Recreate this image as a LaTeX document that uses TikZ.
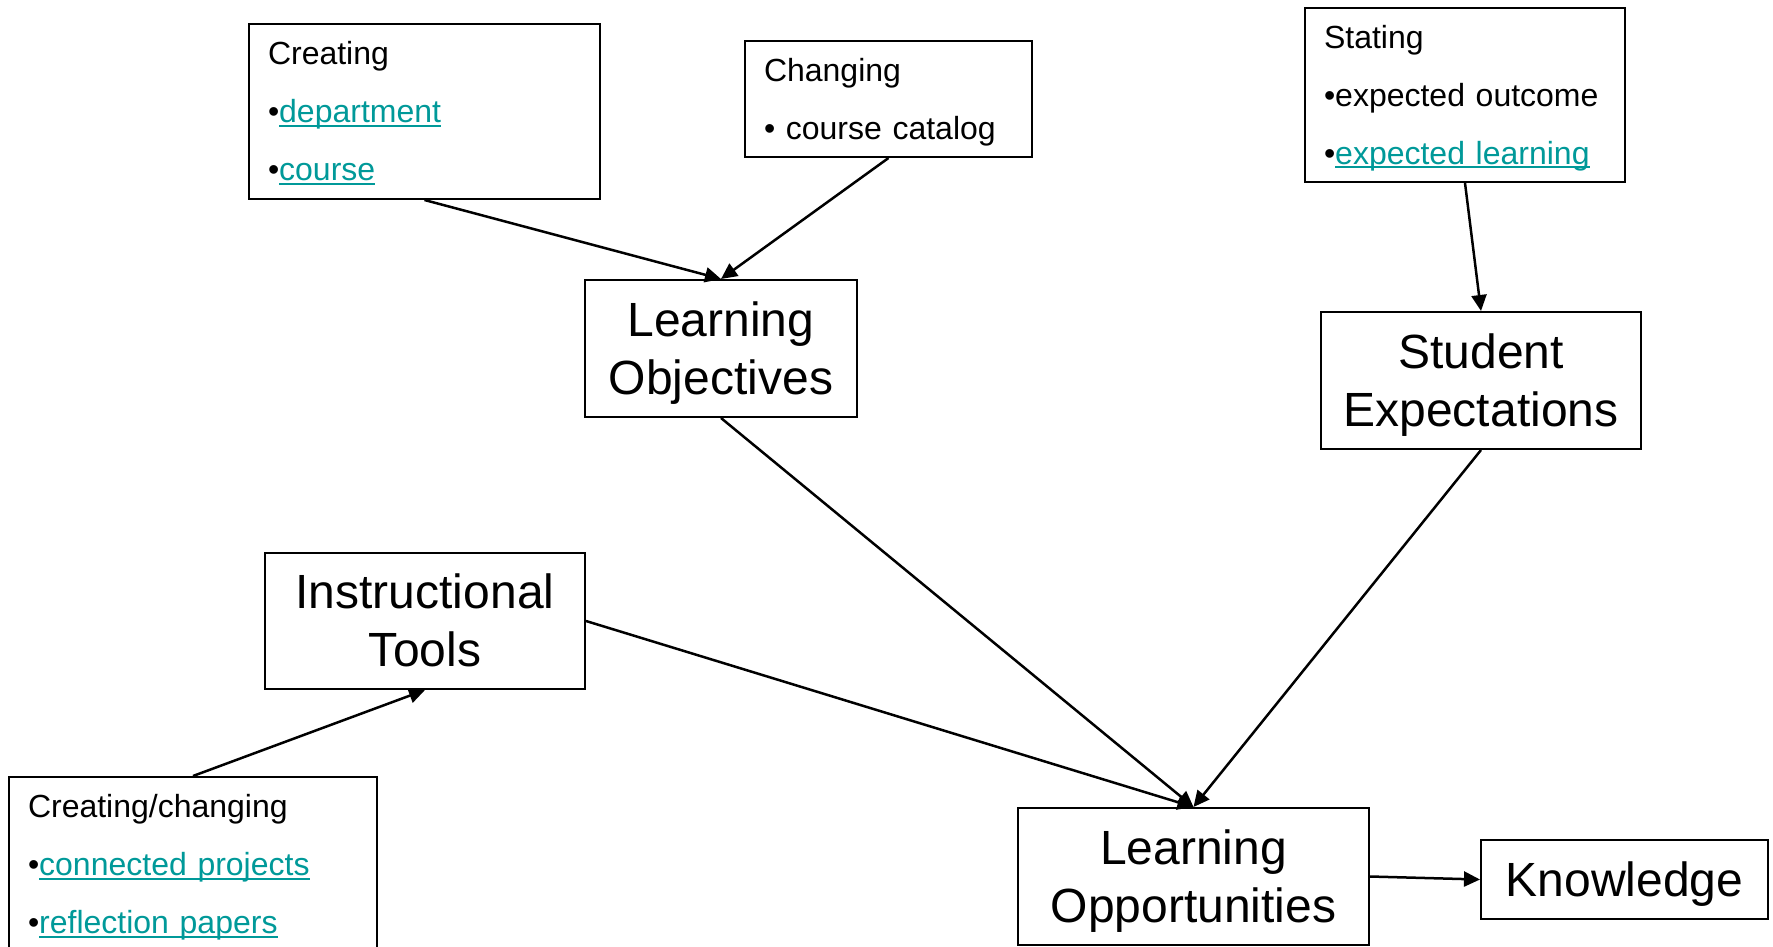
\documentclass[tikz,border=0pt]{standalone}
\usepackage{fontspec}
\setmainfont{Liberation Sans}
\usetikzlibrary{arrows.meta}
\tikzset{>={Triangle[length=16pt,width=15pt]}}
\definecolor{linkteal}{RGB}{0,153,153}
\newcommand\weblink[1]{{\color{linkteal}\setbox0\hbox{#1}\rlap{\rule[-4pt]{\wd0}{2pt}}\box0}}
\newcommand\lstrut{\rule[-0.212em]{0pt}{1.117em}}

\begin{document}
\begin{tikzpicture}[x=1pt,y=-1pt,line width=2pt,
  bigbox/.style={draw,align=center,inner sep=0pt,font=\fontsize{48}{58}\selectfont},
  smallbox/.style={draw,align=left,inner xsep=19pt,inner ysep=0pt,font=\fontsize{32}{58}\selectfont},
  link/.style={->,line width=2.5pt}]
\useasboundingbox (0,0) rectangle (1773,947);
\clip (0,0) rectangle (1773,947);
% small boxes with bullets
\node [smallbox,text width=313pt,minimum height=175pt] (create) at (424.5,111.5)
  {\lstrut Creating\\ •\weblink{department}\\ •\weblink{course}\lstrut};
\node [smallbox,text width=249pt,minimum height=116pt] (change) at (888.5,99)
  {\lstrut Changing\\ • course catalog\lstrut};
\node [smallbox,text width=282pt,minimum height=174pt] (state) at (1465,95)
  {\lstrut Stating\\ •expected outcome\\ •\weblink{expected learning}\lstrut};
\node [smallbox,text width=330pt,minimum height=175pt] (ccbox) at (193,864.5)
  {\lstrut Creating/changing\\ •\weblink{connected projects}\\ •\weblink{reflection papers}\lstrut};
% main boxes
\node [bigbox,minimum width=272pt,minimum height=137pt] (objectives) at (721,348.5) {\lstrut Learning\\ Objectives\lstrut};
\node [bigbox,minimum width=320pt,minimum height=137pt] (expect) at (1481,380.5) {\lstrut Student\\ Expectations\lstrut};
\node [bigbox,minimum width=320pt,minimum height=136pt] (tools) at (425,621) {\lstrut Instructional\\ Tools\lstrut};
\node [bigbox,minimum width=351pt,minimum height=137pt] (opps) at (1193.5,876.5) {\lstrut Learning\\ Opportunities\lstrut};
\node [bigbox,minimum width=287pt,minimum height=79pt] (knowledge) at (1624.5,879.5) {\lstrut Knowledge};
% connectors
\draw [link] (create.south) -- (objectives.north);
\draw [link] (change.south) -- (objectives.north);
\draw [link] (state.south) -- (expect.north);
\draw [link] (ccbox.north) -- (tools.south);
\draw [link] (objectives.south) -- (opps.north);
\draw [link] (expect.south) -- (opps.north);
\draw [link] (tools.east) -- (opps.north);
\draw [link] (opps.east) -- (knowledge.west);
\end{tikzpicture}
\end{document}
